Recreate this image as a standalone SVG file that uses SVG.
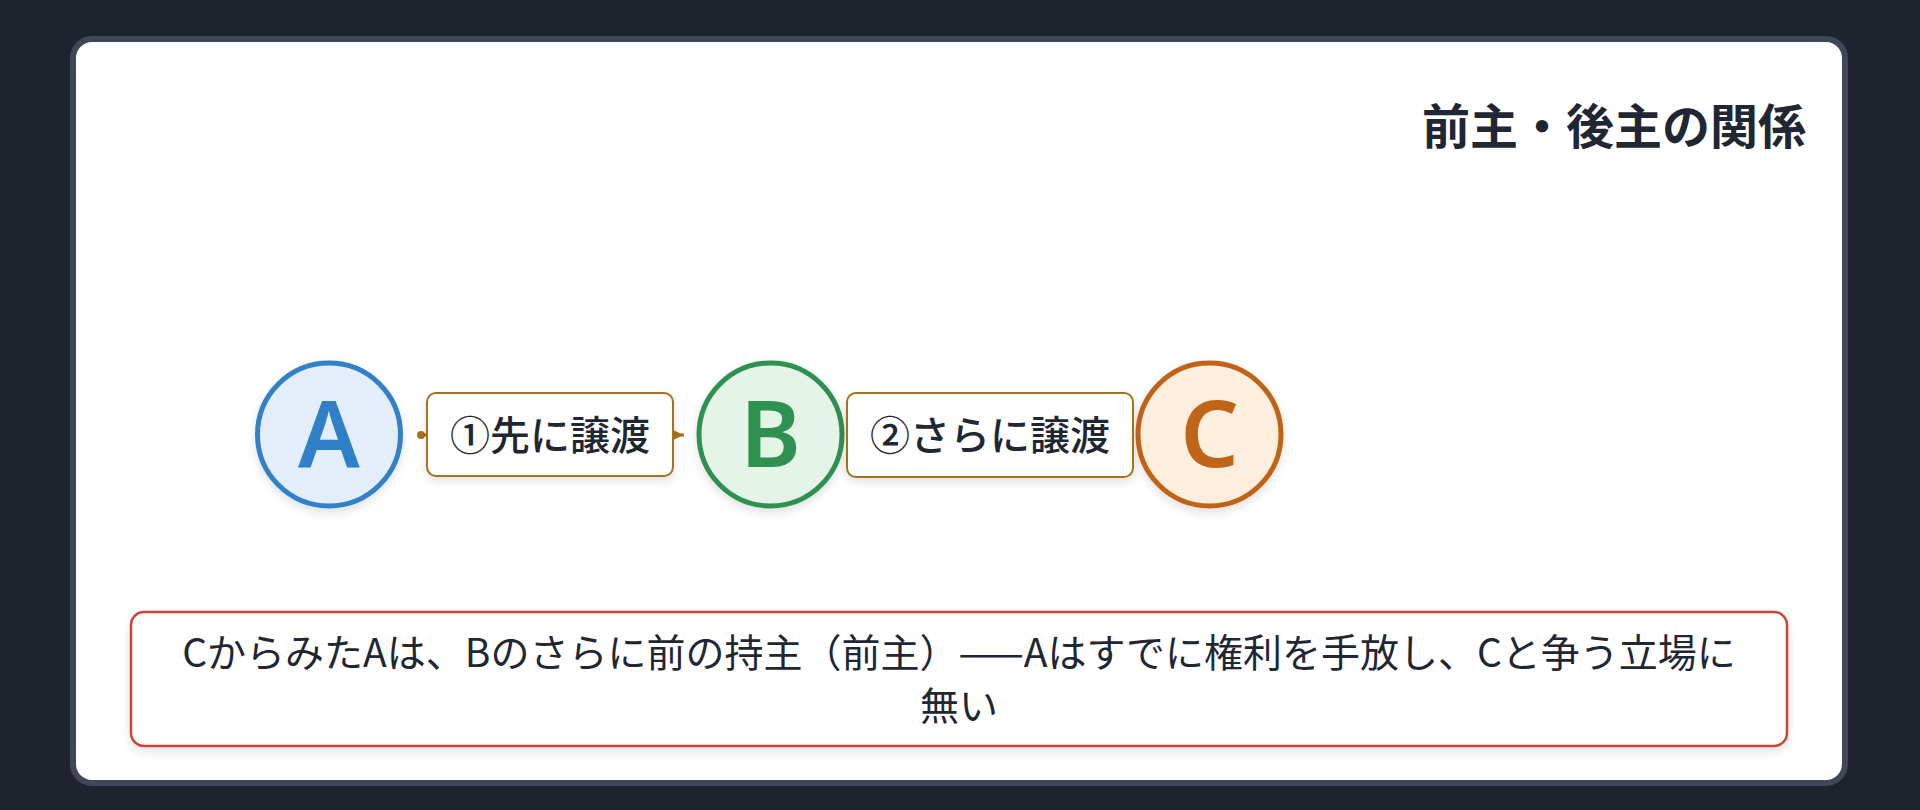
<svg xmlns="http://www.w3.org/2000/svg" width="1920" height="810" viewBox="0 0 1920 810">
<style>
.jp{font-family:"Noto Sans CJK JP","Noto Sans",sans-serif;fill:#1f2733}
.title{font-size:48px;font-weight:700}
.lbl{font-size:40px;font-weight:500}
.note{font-size:39px;font-weight:400}
.letter{font-family:"Noto Sans","Noto Sans CJK JP",sans-serif;font-size:92px;font-weight:600;text-anchor:middle}
.lblbox{fill:#ffffff;stroke:#a5731a;stroke-width:2}
.conn{stroke:#a5731a;stroke-width:3;fill:none}
</style>
<defs>
<filter id="sh" x="-20%" y="-20%" width="140%" height="150%">
<feDropShadow dx="0" dy="4" stdDeviation="5" flood-color="#000000" flood-opacity="0.12"/>
</filter>
<marker id="arr" markerUnits="userSpaceOnUse" markerWidth="12" markerHeight="12" refX="11" refY="6" orient="auto">
<path d="M0,1 L11,6 L0,11 z" fill="#a5731a"/>
</marker>
<marker id="dot" markerUnits="userSpaceOnUse" markerWidth="10" markerHeight="10" refX="5" refY="5" orient="auto">
<circle cx="5" cy="5" r="4" fill="#a5731a"/>
</marker>
</defs>
<rect x="0" y="0" width="1920" height="810" fill="#1e242e"/>
<rect x="73" y="39" width="1772" height="744" rx="19" fill="#ffffff" stroke="#3e4858" stroke-width="6"/>
<text class="jp title" x="1806" y="144" text-anchor="end">前主・後主の関係</text>
<g id="connectors">
<line class="conn" x1="421" y1="435" x2="684" y2="435" marker-start="url(#dot)" marker-end="url(#arr)"/>
<line class="conn" x1="850" y1="435" x2="1125" y2="435" marker-end="url(#arr)"/>
</g>
<g id="node-A">
<circle cx="329" cy="434.5" r="71.5" fill="#e3eefa" stroke="#3080c8" stroke-width="5" filter="url(#sh)"/>
<text class="letter" x="329" y="467" fill="#3080c8">A</text>
</g>
<g id="label-1">
<rect class="lblbox" x="427" y="393" width="246" height="83" rx="9" filter="url(#sh)"/>
<text class="jp lbl" x="550" y="450" text-anchor="middle">①先に譲渡</text>
</g>
<g id="node-B">
<circle cx="770.5" cy="434.5" r="71.5" fill="#e4f5e8" stroke="#2e9150" stroke-width="5" filter="url(#sh)"/>
<text class="letter" x="770.5" y="467" fill="#2e9150">B</text>
</g>
<g id="label-2">
<rect class="lblbox" x="847" y="393" width="286" height="84" rx="9" filter="url(#sh)"/>
<text class="jp lbl" x="990" y="450" text-anchor="middle">②さらに譲渡</text>
</g>
<g id="node-C">
<circle cx="1209.5" cy="434.5" r="71.5" fill="#fdeedd" stroke="#c06418" stroke-width="5" filter="url(#sh)"/>
<text class="letter" x="1209.5" y="467" fill="#c06418">C</text>
</g>
<g id="note">
<rect x="131" y="612" width="1656" height="134" rx="13" fill="#ffffff" stroke="#cc4430" stroke-width="2.5" filter="url(#sh)"/>
<text class="jp note" x="959" y="667" text-anchor="middle">CからみたAは、Bのさらに前の持主（前主）——Aはすでに権利を手放し、Cと争う立場に</text>
<text class="jp note" x="959" y="720" text-anchor="middle">無い</text>
</g>
</svg>
